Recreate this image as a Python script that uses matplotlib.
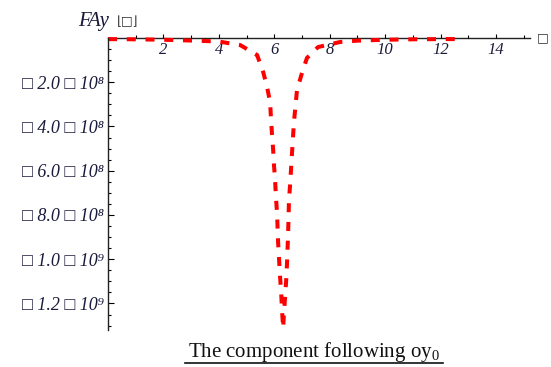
import matplotlib
matplotlib.use("Agg")
import matplotlib.pyplot as plt
import numpy as np

# data (y in units of 1e9)
x_vals = [0.0, 1.0, 2.0, 3.14, 4.0, 4.77, 5.38, 5.60, 5.74, 5.85, 5.88, 5.92, 5.96,
          5.99, 6.03, 6.06, 6.10, 6.14, 6.21, 6.25, 6.28, 6.32, 6.35, 6.43, 6.46,
          6.50, 6.53, 6.57, 6.64, 6.71, 6.82, 7.00, 7.18, 7.58, 8.38, 9.0, 10.0,
          11.0, 12.0, 12.57]
y_vals = [-0.005, -0.006, -0.008, -0.012, -0.016, -0.032, -0.077, -0.154, -0.222,
          -0.290, -0.362, -0.439, -0.507, -0.575, -0.643, -0.719, -0.792, -0.928,
          -1.081, -1.154, -1.231, -1.312, -1.244, -1.095, -1.018, -0.882, -0.733,
          -0.665, -0.520, -0.380, -0.235, -0.158, -0.090, -0.041, -0.018, -0.012,
          -0.008, -0.006, -0.005, -0.005]

xticks = [2, 4, 6, 8, 10, 12, 14]
xtick_labels = ["2", "4", "6", "8", "10", "12", "14"]
yticks = [-2e8, -4e8, -6e8, -8e8, -1e9, -1.2e9]
ytick_labels = ["□ 2.0 □ 10⁸", "□ 4.0 □ 10⁸", "□ 6.0 □ 10⁸", "□ 8.0 □ 10⁸",
                "□ 1.0 □ 10⁹", "□ 1.2 □ 10⁹"]
caption = "The component following oy$_0$"

serif = ["Liberation Serif", "DejaVu Sans"]
plt.rcParams["lines.scale_dashes"] = False
plt.rcParams["mathtext.fontset"] = "custom"
plt.rcParams["mathtext.rm"] = "Liberation Serif"
plt.rcParams["mathtext.it"] = "Liberation Serif:italic"

fig = plt.figure(figsize=(5.51, 3.67), dpi=100)
ax = fig.add_axes([0.196, 0.1008, 0.766, 0.7957])

ax.plot(np.array(x_vals), np.array(y_vals) * 1e9, color="#ff0000", lw=2.9,
        dashes=(6.5, 7), clip_on=False, solid_capstyle="butt")

ax.set_xlim(0, 15.23)
ax.set_ylim(-1.32e9, 0)

ax.spines["right"].set_visible(False)
ax.spines["top"].set_visible(False)
ax.spines["bottom"].set_position(("data", 0))
ax.spines["bottom"].set_zorder(1)
for s in ("left", "bottom"):
    ax.spines[s].set_linewidth(1.0)
    ax.spines[s].set_color("#222222")

ax.set_xticks(xticks, xtick_labels)
ax.set_xticks(np.arange(1, 16, 1.0), minor=True)
ax.set_yticks(yticks, ytick_labels)
ax.set_yticks(np.arange(-1.30e9, 0, 5e7), minor=True)

ax.tick_params(axis="x", which="major", direction="in", length=3, width=0.8, pad=3)
ax.tick_params(axis="x", which="minor", direction="in", length=2, width=0.8)
ax.tick_params(axis="y", which="major", direction="in", length=4, width=0.8, pad=3)
ax.tick_params(axis="y", which="minor", direction="in", length=2.5, width=0.8)

for lab in ax.get_xticklabels():
    lab.set_family(serif)
    lab.set_style("italic")
    lab.set_fontsize(12)
    lab.set_color("#1a1a3a")
for lab in ax.get_yticklabels():
    lab.set_family(serif)
    lab.set_style("italic")
    lab.set_fontsize(13)
    lab.set_color("#1a1a3a")

fig.text(0.141, 0.942, "FAy", family=serif, style="italic", fontsize=15,
         ha="left", va="center", color="#1a1a3a")
fig.text(0.212, 0.940, "⌊□⌋", family=["DejaVu Sans"], fontsize=9,
         ha="left", va="center", color="#333333")
fig.text(0.985, 0.896, "□", family=["DejaVu Sans"], fontsize=9,
         ha="center", va="center", color="#333333")

fig.text(0.570, 0.040, caption, family=serif, fontsize=15,
         ha="center", va="center", color="#111111")
fig.add_artist(plt.Line2D([185 / 551, 443 / 551], [0.011, 0.011],
                          transform=fig.transFigure, color="#111111", lw=1.2))

fig.savefig("out.png", dpi=100)
